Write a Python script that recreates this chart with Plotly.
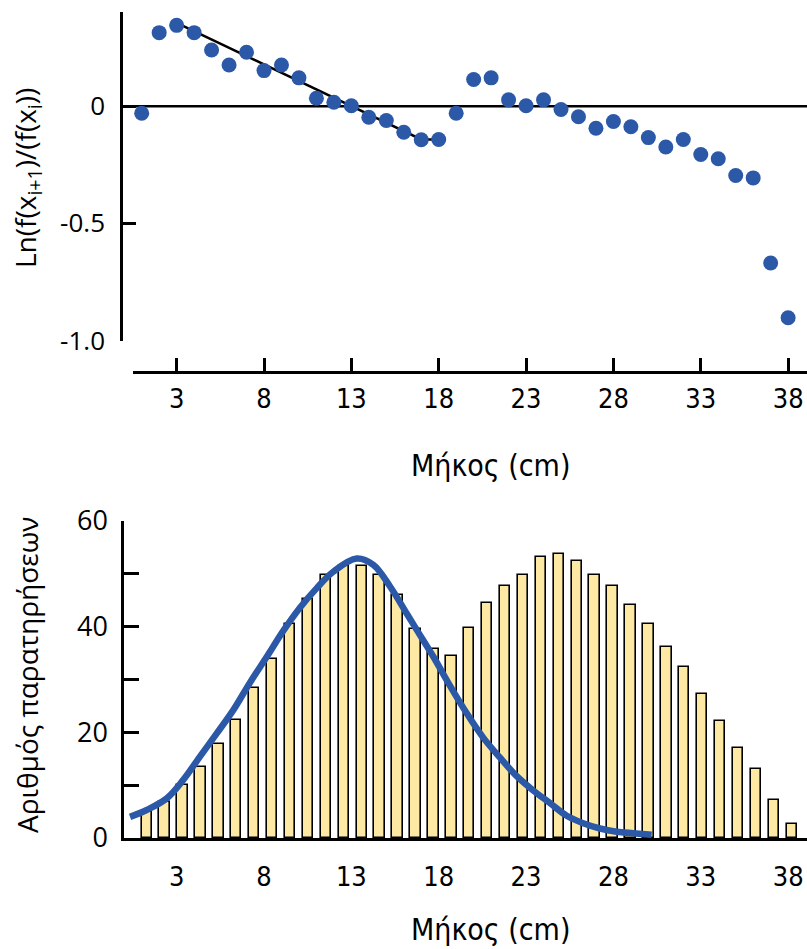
import plotly.graph_objects as go

W, H = 807, 949

# ---------------- data ----------------
# top panel: ln(f(x_{i+1})/f(x_i)) against length class
lengths_top = list(range(1, 39))
ln_ratio = [-0.030, 0.314, 0.345, 0.314, 0.240, 0.176, 0.230, 0.152, 0.176, 0.121,
            0.034, 0.017, 0.002, -0.047, -0.061, -0.111, -0.143, -0.142, -0.030, 0.114,
            0.121, 0.027, 0.002, 0.027, -0.014, -0.045, -0.094, -0.065, -0.088, -0.134,
            -0.174, -0.142, -0.206, -0.224, -0.296, -0.306, -0.669, -0.903]
trend_x = [3, 17, 18]
trend_y = [0.356, -0.142, -0.142]

# bottom panel: number of observations per length class
lengths_bottom = list(range(1, 38))
counts = [5.0, 6.9, 10.0, 13.5, 17.8, 22.3, 28.3, 33.9, 40.6, 45.2,
          49.8, 51.5, 51.5, 49.8, 46.0, 39.5, 35.7, 34.5, 39.7, 44.5,
          47.7, 49.8, 53.1, 53.8, 52.5, 49.8, 47.7, 44.1, 40.6, 36.2,
          32.3, 27.3, 22.1, 17.0, 13.0, 7.1, 2.7]
curve_x = [0.07, 1.0, 2.12, 3.04, 3.97, 4.91, 5.83, 6.76, 7.70, 8.62, 9.55, 10.49,
           11.41, 12.72, 13.65, 14.58, 15.51, 16.07, 17.0, 17.93, 18.86, 19.78,
           20.72, 21.65, 22.57, 23.51, 24.44, 25.36, 26.30, 27.23, 28.15, 29.18]
curve_y = [4.0, 5.3, 7.5, 11.0, 15.4, 19.8, 24.2, 29.4, 34.3, 39.2, 43.6, 47.3,
           50.4, 52.9, 51.7, 47.6, 42.5, 39.4, 34.3, 28.8, 23.6, 19.0,
           15.2, 11.7, 9.0, 6.6, 4.2, 2.8, 1.8, 1.2, 0.9, 0.6]

x_ticks = [3, 8, 13, 18, 23, 28, 33, 38]
top_y_ticks = [0, -0.5, -1.0]
top_y_labels = ["0", "-0.5", "-1.0"]
bot_y_ticks = [0, 20, 40, 60]

x_title = "Μήκος (cm)"
top_y_title = "Ln(f(x<sub>i+1</sub>)/(f(x<sub>i</sub>))"
bot_y_title = "Αριθμός παρατηρήσεων"

# ---------------- styling ----------------
BLUE = "#2B58A7"
BAR_FILL = "#FDE8A4"
NARROW = "Liberation Sans Narrow, DejaVu Sans Condensed, Open Sans, sans-serif"
SANS = "Open Sans, DejaVu Sans, sans-serif"


def px(x):
    return x / W


def py(y):
    return 1 - y / H


fig = go.Figure()

# top panel
fig.add_trace(go.Scatter(x=trend_x, y=trend_y, mode="lines",
                         line=dict(color="black", width=2.5),
                         xaxis="x", yaxis="y", showlegend=False, hoverinfo="skip"))
fig.add_trace(go.Scatter(x=lengths_top, y=ln_ratio, mode="markers",
                         marker=dict(color=BLUE, size=15),
                         xaxis="x", yaxis="y", showlegend=False))

# bottom panel
fig.add_trace(go.Bar(x=lengths_bottom, y=counts, width=0.58,
                     marker=dict(color=BAR_FILL, line=dict(color="black", width=1.6)),
                     xaxis="x3", yaxis="y3", showlegend=False))
fig.add_trace(go.Scatter(x=curve_x, y=curve_y, mode="lines",
                         line=dict(color=BLUE, width=6.5, shape="spline", smoothing=1.0),
                         xaxis="x3", yaxis="y3", showlegend=False))
# carrier for the bottom tick-label axis (invisible)
fig.add_trace(go.Scatter(x=x_ticks, y=[30] * len(x_ticks), mode="markers",
                         marker=dict(opacity=0, size=1),
                         xaxis="x4", yaxis="y3", showlegend=False, hoverinfo="skip"))

top_x_range = [0.502, 39.08]
top_y_range = [-1.0, -1.0 + (340.5 - 12) / 234.3]

fig.update_layout(
    width=W, height=H,
    margin=dict(l=0, r=0, t=0, b=0, pad=0, autoexpand=False),
    paper_bgcolor="white", plot_bgcolor="rgba(0,0,0,0)",
    showlegend=False,
    bargap=0,
    xaxis=dict(domain=[px(133), 1], range=top_x_range, anchor="free", position=py(372),
               showline=True, linecolor="black", linewidth=2.5,
               ticks="inside", ticklen=13, tickwidth=2.5, tickcolor="black",
               tickmode="array", tickvals=x_ticks,
               tickfont=dict(family=NARROW, size=27, color="black"),
               ticklabelstandoff=2,
               showgrid=False, zeroline=False, automargin=False),
    yaxis=dict(domain=[py(340.5), py(12)], range=top_y_range, anchor="free", position=px(121),
               showline=True, linecolor="black", linewidth=2.5,
               ticks="inside", ticklen=13, tickwidth=2.5, tickcolor="black",
               tickmode="array", tickvals=top_y_ticks, ticktext=top_y_labels,
               tickfont=dict(family=SANS, size=26, color="black"),
               ticklabelstandoff=10,
               showgrid=False, zeroline=False, automargin=False),
    xaxis3=dict(domain=[px(124), 1], range=[-0.267, 37.85], anchor="y3",
                showline=True, linecolor="black", linewidth=2.5,
                ticks="", showticklabels=False, showgrid=False, zeroline=False,
                automargin=False),
    xaxis4=dict(domain=[px(124), 1], range=[-0.013, 39.08], anchor="y3", overlaying="x3",
                side="bottom", showline=False, ticks="",
                tickmode="array", tickvals=x_ticks,
                tickfont=dict(family=NARROW, size=27, color="black"),
                ticklabelstandoff=20,
                showgrid=False, zeroline=False, automargin=False),
    yaxis3=dict(domain=[py(838), py(521)], range=[0, 60], anchor="x3",
                showline=True, linecolor="black", linewidth=2.5,
                ticks="inside", ticklen=15, tickwidth=2.5, tickcolor="black",
                tickmode="array", tickvals=bot_y_ticks,
                minor=dict(tickmode="linear", tick0=0, dtick=10, ticks="inside",
                           ticklen=15, tickwidth=2.5, tickcolor="black", showgrid=False),
                tickfont=dict(family=SANS, size=27, color="black"),
                ticklabelstandoff=8,
                showgrid=False, zeroline=False, automargin=False),
    shapes=[dict(type="line", xref="paper", yref="y", x0=px(121), x1=1, y0=0, y1=0,
                 line=dict(color="black", width=2.5), layer="below")],
    annotations=[
        dict(text=x_title, xref="paper", yref="paper", x=px(490), y=py(465),
             xanchor="center", yanchor="middle", showarrow=False,
             font=dict(family=NARROW, size=30, color="black")),
        dict(text=x_title, xref="paper", yref="paper", x=px(490), y=py(929),
             xanchor="center", yanchor="middle", showarrow=False,
             font=dict(family=NARROW, size=30, color="black")),
        dict(text=top_y_title, xref="paper", yref="paper", x=px(27), y=py(178),
             xanchor="center", yanchor="middle", showarrow=False, textangle=-90,
             font=dict(family=SANS, size=28, color="black")),
        dict(text=bot_y_title, xref="paper", yref="paper", x=px(27), y=py(675),
             xanchor="center", yanchor="middle", showarrow=False, textangle=-90,
             font=dict(family=SANS, size=28, color="black")),
    ],
)

fig.write_html("out.html")
